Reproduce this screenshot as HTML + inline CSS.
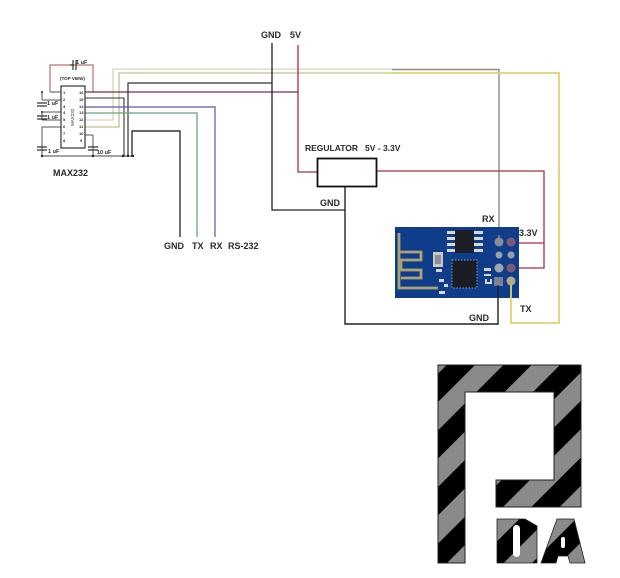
<!DOCTYPE html>
<html><head><meta charset="utf-8"><style>
html,body{margin:0;padding:0;background:#fff;width:620px;height:578px;overflow:hidden}
svg{display:block;filter:blur(0.3px)}
text{font-family:"Liberation Sans",sans-serif;font-weight:bold;fill:#2a2a2a}
</style></head><body>
<svg width="620" height="578" viewBox="0 0 620 578" xmlns="http://www.w3.org/2000/svg">
<defs>
<clipPath id="logo">
<path d="M438 365H581V507H496V480H554V392H465V563H438Z"/>
<path d="M497 519H525L537 526V563H497Z"/>
<path d="M541 563L557 519H574L585 563H570L568 556H558L556 563Z"/>
</clipPath>
</defs>
<g fill="none" stroke-linejoin="miter">
<path d="M85 120H113V69H392" stroke="#d8d4c0" stroke-width="1.3"/>
<path d="M85 127H119V73H392" stroke="#c4c08a" stroke-width="1.3"/>
<path d="M392 69.500H499V235" stroke="#8f8c88" stroke-width="1.4"/>
<path d="M392 73H559V323H511V285" stroke="#e6cf6c" stroke-width="1.8"/>
<path d="M50 92V65H93V92" stroke="#a55050" stroke-width="1"/>
<path d="M85 92H298" stroke="#7a2c3c" stroke-width="1.3"/>
<path d="M298 45V172H318" stroke="#a53040" stroke-width="1.3"/>
<path d="M128 157V83H272" stroke="#333" stroke-width="1.2"/>
<path d="M85 98H124V157" stroke="#333" stroke-width="1.1"/>
<path d="M85 107H215V237" stroke="#5a5aa8" stroke-width="1.2"/>
<path d="M85 113H197V237" stroke="#63a878" stroke-width="1.3"/>
<path d="M132 157V131H180V237" stroke="#333" stroke-width="1.4"/>
<path d="M42 156H133" stroke="#444" stroke-width="1.1"/>
<path d="M61 92H50M61 100H42M61 112H42M61 120H42M61 127H42V156M93 135V156M85 135H93M42 92V100M42 112V120" stroke="#555" stroke-width="1"/>
<path d="M70 65H74M73 60V70M76 60V70" stroke="#333" stroke-width="1.2"/>
<path d="M37 103H47M37 106H47M37 116H47M37 119H47M37 147H47M37 150H47M88 147H98M88 150H98" stroke="#333" stroke-width="1.2"/>
<rect x="61" y="86" width="24" height="62" stroke="#333" stroke-width="1.2" fill="#fff"/>
<path d="M272 43V210H345" stroke="#222" stroke-width="1.3"/>
<path d="M345 186V324H498V285" stroke="#222" stroke-width="1.4"/>
<path d="M377 171H544V268H513M544 243H513" stroke="#a53040" stroke-width="1.3"/>
<rect x="317.500" y="158.500" width="59" height="28" stroke="#111" stroke-width="1.8" fill="#fff"/>
</g>
<g fill="#222"><circle cx="123" cy="156" r="1.200"/><circle cx="128" cy="156" r="1.200"/><circle cx="133" cy="156" r="1.200"/><circle cx="42" cy="156" r="1.200"/><circle cx="93" cy="156" r="1.200"/><circle cx="42" cy="92" r="1"/><circle cx="42" cy="112" r="1"/></g>
<g style="font-size:4px;font-weight:normal">
<text x="60" y="80" style="font-size:4.500px">(TOP VIEW)</text>
<text x="63" y="94">1</text><text x="63" y="101">2</text><text x="63" y="108">3</text><text x="63" y="114">4</text><text x="63" y="121">5</text><text x="63" y="128">6</text><text x="63" y="135">7</text><text x="63" y="142">8</text>
<text x="79" y="94">16</text><text x="79" y="101">15</text><text x="79" y="108">14</text><text x="79" y="114">13</text><text x="79" y="121">12</text><text x="79" y="128">11</text><text x="79" y="135">10</text><text x="80" y="142">9</text>
</g>
<text transform="translate(74,126) rotate(-90)" style="font-size:4.500px;font-weight:normal">MAX232</text>
<g style="font-size:5.500px;font-weight:normal">
<text x="76" y="64">1 uF</text><text x="47" y="105">1 uF</text><text x="47" y="119">1 uF</text><text x="48" y="153">1 uF</text><text x="97" y="154">10 uF</text>
</g>
<g style="font-size:9px">
<text x="53" y="176">MAX232</text>
<text x="261" y="38">GND</text><text x="290" y="38">5V</text>
<text x="305" y="151" style="font-size:8.500px">REGULATOR</text><text x="365" y="151" style="font-size:8.500px">5V - 3.3V</text>
<text x="320" y="206">GND</text>
<text x="164" y="249">GND</text><text x="192" y="249">TX</text><text x="210" y="249">RX</text><text x="228" y="249">RS-232</text>
<text x="482" y="222">RX</text><text x="519" y="236">3.3V</text><text x="520" y="312">TX</text><text x="469" y="321">GND</text>
</g>
<rect x="395" y="227" width="124" height="71" fill="#0f3d8a"/>
<path d="M399 233V288H438M399 252H421V260H401V270H421V278H401" fill="none" stroke="#aca272" stroke-width="2.800"/>
<rect x="455" y="230" width="19" height="23" fill="#1b1e26"/>
<g fill="#d8d8d0"><rect x="447" y="231" width="8" height="3"/><rect x="447" y="237" width="8" height="3"/><rect x="447" y="243" width="8" height="3"/><rect x="447" y="249" width="8" height="3"/><rect x="474" y="231" width="9" height="3"/><rect x="474" y="237" width="9" height="3"/><rect x="474" y="243" width="9" height="3"/><rect x="474" y="249" width="9" height="3"/></g>
<rect x="433" y="252" width="10" height="15" fill="#c9c9c0"/><rect x="435" y="255" width="6" height="9" fill="#8c9098"/>
<rect x="452" y="260" width="25" height="28" fill="#1a1d25" stroke="#8a93ad" stroke-width="1" stroke-dasharray="1.500 1.500"/>
<g fill="#d5d5cc"><rect x="436" y="269" width="6" height="3"/><rect x="439" y="279" width="5" height="3"/><rect x="444" y="284" width="4" height="3"/><rect x="439" y="291" width="6" height="3"/><rect x="484" y="268" width="7" height="3"/><rect x="484" y="274" width="7" height="2"/><rect x="485" y="279" width="7" height="5"/></g>
<rect x="487" y="279" width="3" height="3" fill="#0f3d8a"/>
<g>
<circle cx="499" cy="242" r="4.500" fill="#8a8d98"/><circle cx="511" cy="242" r="4.500" fill="#7c5a75"/>
<circle cx="499" cy="255" r="3.500" fill="#9a9fa8"/><circle cx="511" cy="255" r="3.500" fill="#9a9fa8"/>
<circle cx="499" cy="268" r="4.500" fill="#a0a4a8"/><circle cx="511" cy="268" r="4.500" fill="#7c5a75"/>
<rect x="494" y="277" width="9" height="9" fill="#7c8090"/><circle cx="511" cy="281" r="4.500" fill="#b0ab88"/>
</g>
<path d="M499 235V240" stroke="#8f8c88" stroke-width="1.400"/>
<path d="M498 285V298" stroke="#222" stroke-width="1.400"/>
<path d="M511 285V298" stroke="#e6cf6c" stroke-width="1.800"/>
<g clip-path="url(#logo)">
<rect x="430" y="360" width="165" height="210" fill="#8a8a8a"/>
<g fill="#000">
<path d="M811.670 0H840L270 570H241.670Z"/>
<path d="M868.330 0H896.670L326.670 570H298.330Z"/>
<path d="M925 0H953.330L383.330 570H355Z"/>
<path d="M981.670 0H1010L440 570H411.670Z"/>
<path d="M1038.330 0H1066.670L496.670 570H468.330Z"/>
<path d="M1095 0H1123.330L553.330 570H525Z"/>
<path d="M1151.670 0H1180L610 570H581.670Z"/>
</g>
</g>
<path d="M438 365H581V507H496V480H554V392H465V563H438Z" fill="none" stroke="#222" stroke-width="1"/>
<path d="M497 519H525L537 526V563H497Z" fill="none" stroke="#222" stroke-width="0.800"/>
<path d="M541 563L557 519H574L585 563H570L568 556H558L556 563Z" fill="none" stroke="#222" stroke-width="0.800"/>
<rect x="513" y="525" width="7" height="32" rx="3.500" fill="#fff"/>
<rect x="561" y="537" width="4" height="11" rx="2" fill="#fff"/>
</svg>
</body></html>
